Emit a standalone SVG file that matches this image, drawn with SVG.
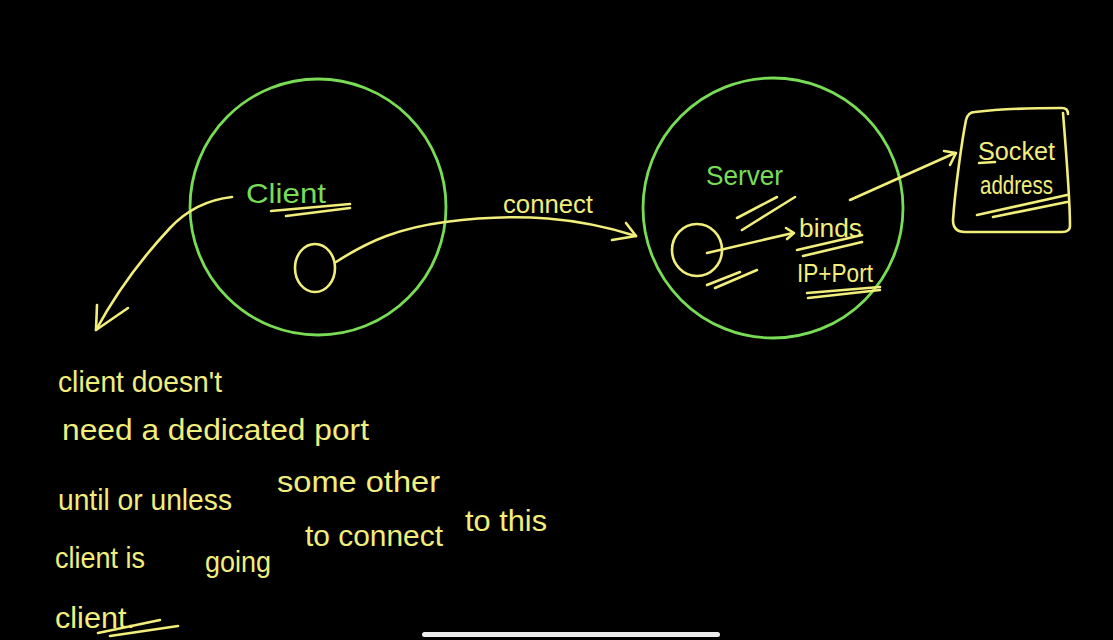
<svg xmlns="http://www.w3.org/2000/svg" width="1113" height="640" viewBox="0 0 1113 640">
<style>
.y{fill:none;stroke:#f2ee7c;stroke-width:2.6;stroke-linecap:round;stroke-linejoin:round}
.g{fill:none;stroke:#79dc55;stroke-width:2.8}
.ty{fill:#f2ee7c;font-family:"Liberation Sans","DejaVu Sans",sans-serif;font-size:26px}
.tn{fill:#f2ee7c;font-family:"Liberation Sans","DejaVu Sans",sans-serif;font-size:30px}
.tg{fill:#79dc55;font-family:"Liberation Sans","DejaVu Sans",sans-serif;font-size:28px}
</style>
<rect width="1113" height="640" fill="#000"/>
<g id="client">
<circle class="g" cx="318" cy="207" r="128"/>
<text class="tg" x="246" y="203" textLength="80" lengthAdjust="spacingAndGlyphs">Client</text>
<path class="y" d="M271,211 L350,204 M286,216 L350,208"/>
<ellipse class="y" cx="315" cy="268" rx="20" ry="24"/>
</g>
<g id="server">
<circle class="g" cx="773" cy="208" r="130"/>
<text class="tg" x="706" y="185" textLength="77" lengthAdjust="spacingAndGlyphs">Server</text>
<path class="y" d="M737,218 L777,197 M742,230 L795,197"/>
<ellipse class="y" cx="697" cy="250" rx="25" ry="26"/>
<path class="y" d="M707,285 L740,272 M715,288 L757,270"/>
<text class="ty" x="799" y="237" textLength="63" lengthAdjust="spacingAndGlyphs">binds</text>
<path class="y" d="M797,250 L862,235 M803,256 L862,242"/>
<text class="ty" x="797" y="282" textLength="76" lengthAdjust="spacingAndGlyphs">IP+Port</text>
<path class="y" d="M807,293 L880,287 M808,298 L880,290"/>
</g>
<g id="socket-address">
<path class="y" d="M975,112 C1000,109 1040,108 1062,108 Q1068,108 1068,114 M1063,113 C1066,150 1070,200 1070,226 Q1070,232 1062,232 L965,232 Q953,232 953,220 C955,190 962,140 966,120 Q968,112 975,112"/>
<text class="ty" x="978" y="160" textLength="77" lengthAdjust="spacingAndGlyphs">Socket</text>
<path class="y" d="M979,163 L995,162"/>
<text class="ty" x="980" y="194" textLength="73" lengthAdjust="spacingAndGlyphs">address</text>
<path class="y" d="M977,215 L1067,195 M993,217 L1067,202"/>
</g>
<g id="connectors">
<path class="y" d="M232,197 C205,200 185,212 170,228 C140,260 115,295 96,330"/>
<path class="y" d="M97,305 L96,330 L128,308"/>
<path class="y" d="M336,262 C370,240 400,228 445,222 C520,212 580,218 636,236"/>
<path class="y" d="M626,223 L636,236 L612,240"/>
<text class="ty" x="503" y="213" textLength="90" lengthAdjust="spacingAndGlyphs">connect</text>
<path class="y" d="M707,253 L793,233"/>
<path class="y" d="M786,228 L794,233 L787,239"/>
<path class="y" d="M850,200 L955,153"/>
<path class="y" d="M944,151 L956,153 L950,165"/>
</g>
<g id="note">
<text class="tn" x="58" y="392" textLength="164" lengthAdjust="spacingAndGlyphs">client doesn't</text>
<text class="tn" x="62" y="440" textLength="307" lengthAdjust="spacingAndGlyphs">need a dedicated port</text>
<text class="tn" x="58" y="510" textLength="174" lengthAdjust="spacingAndGlyphs">until or unless</text>
<text class="tn" x="277" y="492" textLength="163" lengthAdjust="spacingAndGlyphs">some other</text>
<text class="tn" x="55" y="568" textLength="90" lengthAdjust="spacingAndGlyphs">client is</text>
<text class="tn" x="205" y="572" font-size="40" textLength="66" lengthAdjust="spacingAndGlyphs">going</text>
<text class="tn" x="305" y="546" textLength="138" lengthAdjust="spacingAndGlyphs">to connect</text>
<text class="tn" x="465" y="531" textLength="82" lengthAdjust="spacingAndGlyphs">to this</text>
<text class="tn" x="55" y="628" textLength="80" lengthAdjust="spacingAndGlyphs">client.</text>
<path class="y" d="M98,633 L160,620 M110,636 L178,626"/>
</g>
<rect x="422" y="632" width="298" height="5" rx="2.5" fill="#ececec"/>
</svg>
